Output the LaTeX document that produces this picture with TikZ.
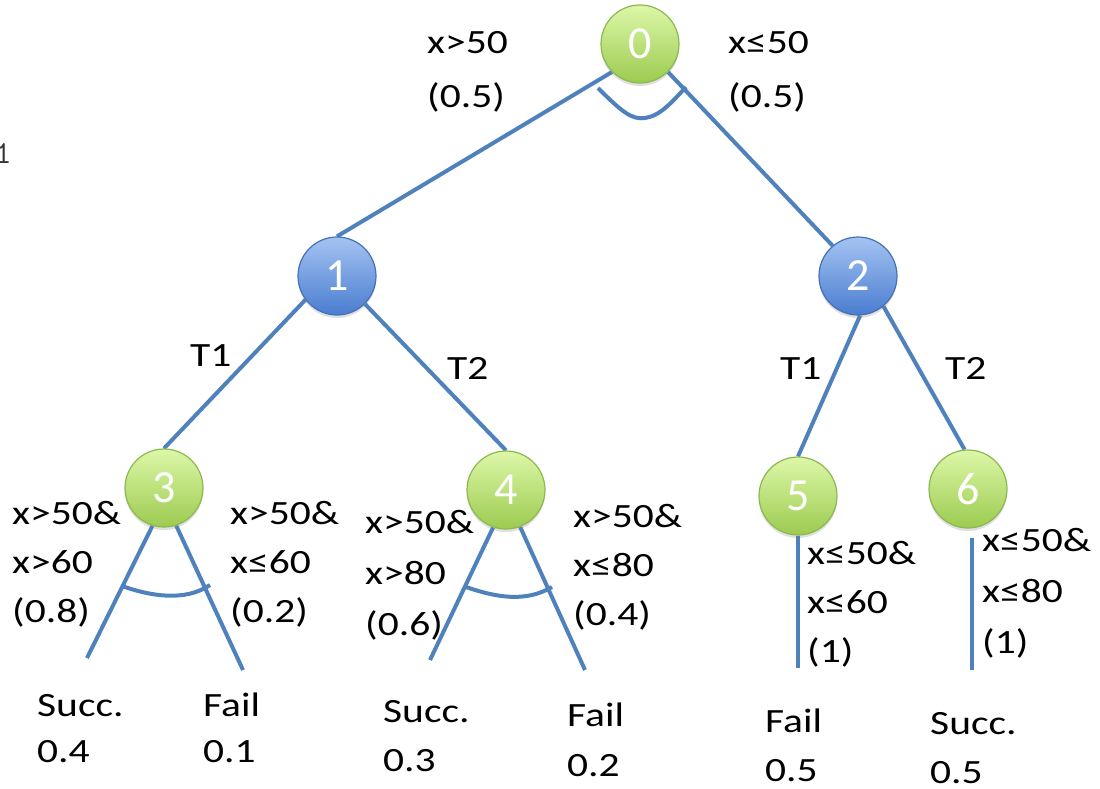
\documentclass[tikz,border=0pt]{standalone}
\usepackage{fontspec}
\setmainfont{Carlito}
\newfontfamily\lblfont{Carlito}[FakeStretch=1.22]
\usetikzlibrary{shadows,backgrounds}
\definecolor{linkblue}{HTML}{4F81BD}
\definecolor{greentop}{HTML}{DDF7A8}
\definecolor{greenbot}{HTML}{9CCB50}
\definecolor{greenrim}{HTML}{8CB850}
\definecolor{bluetop}{HTML}{A4C3F2}
\definecolor{bluebot}{HTML}{4A7DD0}
\definecolor{bluerim}{HTML}{4470B8}
\begin{document}
\begin{tikzpicture}[x=1pt,y=-1pt,
  edge/.style={draw=linkblue,line width=4pt},
  state/.style={circle,minimum size=78pt,inner sep=0pt,line width=1.2pt,text=white,
    font=\fontsize{46}{46}\selectfont,
    drop shadow={opacity=0.25,shadow xshift=0pt,shadow yshift=-3pt}},
  gstate/.style={state,draw=greenrim,top color=greentop,bottom color=greenbot},
  bstate/.style={state,draw=bluerim,top color=bluetop,bottom color=bluebot},
  % labels are placed by the baseline of their last line
  lbl/.style={inner sep=0pt,anchor=base west,align=left,
    font=\lblfont\fontsize{34}{#1}\selectfont},
  lbl/.default=49]
\useasboundingbox (0,0) rectangle (1100,788);

% states
\node[gstate] (n0) at (640,44)  {0};
\node[bstate] (n1) at (337,276) {1};
\node[bstate] (n2) at (858,276) {2};
\node[gstate] (n3) at (164,488) {3};
\node[gstate] (n4) at (506,490) {4};
\node[gstate] (n5) at (798,496) {5};
\node[gstate] (n6) at (968,489) {6};

% free ends of the outcome branches
\coordinate (l3a) at (87,658);
\coordinate (l3b) at (243,670);
\coordinate (l4a) at (430,660);
\coordinate (l4b) at (585,670);
\coordinate (l5)  at (798,668);
\coordinate (l6s) at (972,538);
\coordinate (l6)  at (972,670);

\begin{scope}[on background layer]
  \draw[edge] (n0.225) -- (n1.north);
  \draw[edge] (n0.-45) -- (n2.130);
  \draw[edge] (n1.217) -- (n3.north);
  \draw[edge] (n1.-45) -- (n4.north);
  \draw[edge] (n2.-87) -- (n5.north);
  \draw[edge] (n2.-50) -- (n6.95);
  \draw[edge] (n3.-107) -- (l3a);
  \draw[edge] (n3.-72) -- (l3b);
  \draw[edge] (n4.-109) -- (l4a);
  \draw[edge] (n4.-69) -- (l4b);
  \draw[edge] (n5.south) -- (l5);
  \draw[edge] (l6s) -- (l6);
\end{scope}

% probabilistic-choice arcs
\draw[edge] (598,88) .. controls (622,112) and (632,120) .. (645,118)
            .. controls (660,116) and (672,102) .. (686,87);
\draw[edge] (122,586) .. controls (150,596) and (185,602) .. (210,585);
\draw[edge] (466,587) .. controls (495,597) and (525,603) .. (552,587);

% branch labels
\node[lbl=54] (c0a) at (427,107) {x>50\\(0.5)};
\node[lbl=54] (c0b) at (728,107) {x≤50\\(0.5)};
\node[lbl] (t1a) at (190,366) {T1};
\node[lbl] (t2a) at (447,379) {T2};
\node[lbl] (t1b) at (780,379) {T1};
\node[lbl] (t2b) at (945,379) {T2};
\node[lbl] (c3a) at (12,622)  {x>50\&\\x>60\\(0.8)};
\node[lbl] (c3b) at (230,622) {x>50\&\\x≤60\\(0.2)};
\node[lbl=51] (c4a) at (365,635) {x>50\&\\x>80\\(0.6)};
\node[lbl] (c4b) at (573,625) {x>50\&\\x≤80\\(0.4)};
\node[lbl] (c5) at (807,662) {x≤50\&\\x≤60\\(1)};
\node[lbl=51] (c6) at (982,653) {x≤50\&\\x≤80\\(1)};

% outcomes
\node[lbl=46] (o1) at (37,762)  {Succ.\\0.4};
\node[lbl=46] (o2) at (203,762) {Fail\\0.1};
\node[lbl=49] (o3) at (383,771) {Succ.\\0.3};
\node[lbl=50] (o4) at (567,776) {Fail\\0.2};
\node[lbl=49] (o5) at (765,781) {Fail\\0.5};
\node[lbl=49] (o6) at (930,783) {Succ.\\0.5};

\node[inner sep=0pt,anchor=base west,text=black!80,
  font=\fontspec{Latin Modern Mono}\fontsize{32}{32}\selectfont] (pg) at (-5,163) {1};
\end{tikzpicture}
\end{document}
